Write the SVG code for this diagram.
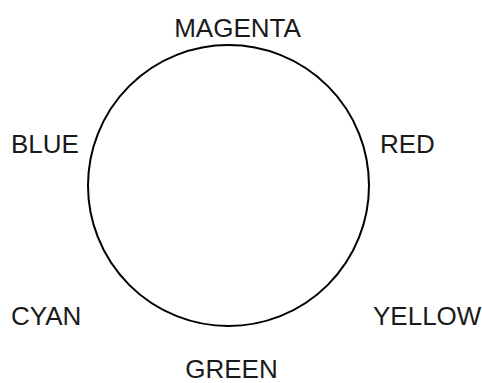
<svg xmlns="http://www.w3.org/2000/svg" width="482" height="383" viewBox="0 0 482 383">
<style>
.lbl{font-family:"Liberation Sans",Arial,sans-serif;font-size:26px;fill:#1a1a1a}
.ring{fill:none;stroke:#000;stroke-width:2}
</style>
<rect width="482" height="383" fill="#fff"/>
<g id="connectors"></g>
<g id="wheel"><circle class="ring" cx="228.5" cy="185.5" r="140.5"/></g>
<g id="magenta"><text class="lbl" x="237.5" y="36.5" text-anchor="middle">MAGENTA</text></g>
<g id="blue"><text class="lbl" x="11" y="152.5">BLUE</text></g>
<g id="red"><text class="lbl" x="380" y="152.5">RED</text></g>
<g id="cyan"><text class="lbl" x="11" y="324.5">CYAN</text></g>
<g id="yellow"><text class="lbl" x="373" y="324.5">YELLOW</text></g>
<g id="green"><text class="lbl" x="231.5" y="378" text-anchor="middle">GREEN</text></g>
</svg>
